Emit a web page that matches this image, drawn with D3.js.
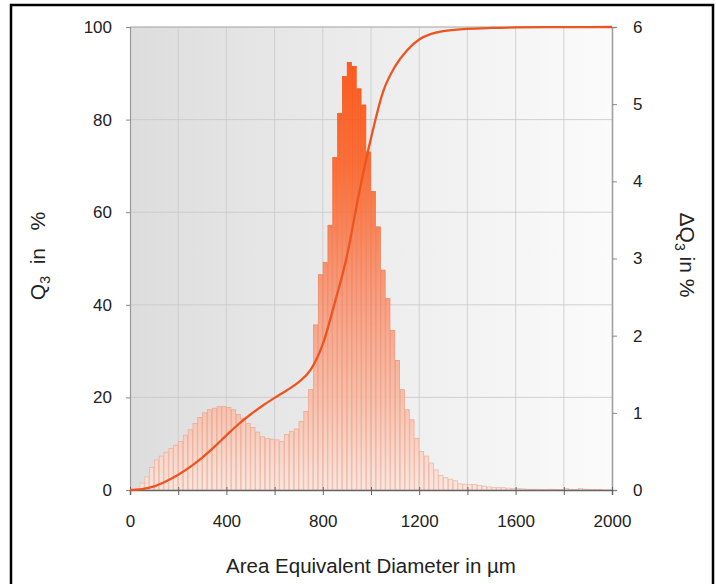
<!DOCTYPE html>
<html>
<head>
<meta charset="utf-8">
<script src="https://cdn.jsdelivr.net/npm/d3@7"></script>
<style>
  body { margin: 0; background: #fff; }
  text { font-family: "Liberation Sans", Arial, sans-serif; fill: #222; }
</style>
</head>
<body>
<div id="chart"></div>
<script>
// bin lower edges in µm (20 µm wide bins)
var binStarts = [0,20,40,60,80,100,120,140,160,180,200,220,240,260,280,300,320,340,360,380,
  400,420,440,460,480,500,520,540,560,580,600,620,640,660,680,700,720,740,760,780,
  800,820,840,860,880,900,920,940,960,980,1000,1020,1040,1060,1080,1100,1120,1140,1160,1180,
  1200,1220,1240,1260,1280,1300,1320,1340,1360,1380,1400,1420,1440,1460,1480,1500,1520,1540,1560,1580,
  1600,1620,1640,1660,1680,1700,1720,1740,1760,1780,1800,1820,1840,1860,1880,1900,1920,1940,1960,1980];
var binWidth = 20;

// delta Q3 per bin, in %
var dQ3 = [0.00,0.02,0.09,0.17,0.29,0.39,0.44,0.49,0.54,0.58,
  0.63,0.71,0.78,0.86,0.94,1.00,1.04,1.06,1.08,1.08,
  1.07,1.04,0.98,0.93,0.86,0.81,0.75,0.69,0.67,0.66,
  0.65,0.63,0.72,0.76,0.79,0.89,1.02,1.30,2.14,2.79,
  2.95,3.43,4.31,4.88,5.36,5.54,5.49,5.20,4.99,4.38,
  3.87,3.41,2.85,2.48,2.07,1.68,1.30,1.04,0.91,0.67,
  0.50,0.44,0.35,0.26,0.19,0.16,0.14,0.12,0.08,0.075,
  0.07,0.07,0.06,0.05,0.04,0.035,0.03,0.03,0.025,0.02,
  0.02,0.015,0.01,0.01,0.01,0.008,0.008,0.01,0.008,0.005,
  0.02,0.01,0.005,0.02,0.01,0.005,0.005,0.005,0.003,0.003];

// cumulative Q3 curve, in %
var q3Diam = [0,50,100,150,200,250,300,350,400,450,500,550,600,650,700,750,800,850,900,950,
  1000,1050,1100,1150,1200,1250,1300,1400,1500,1600,1800,2000];
var q3Vals = [0,0.2,0.8,1.9,3.3,5.0,7.0,9.3,11.8,14.2,16.3,18.2,19.9,21.5,23.3,26.0,31.5,40.5,50.5,64,
  76,86,91.5,95.0,97.3,98.5,99.1,99.6,99.8,99.9,99.97,100];

var xTicks = [0,200,400,600,800,1000,1200,1400,1600,1800,2000];
var xTickLabels = ["0","","400","","800","","1200","","1600","","2000"];
var leftTicks = [0,20,40,60,80,100];
var rightTicks = [0,1,2,3,4,5,6];

var W = 716, H = 584;
var plot = {left: 130, right: 612, top: 27, bottom: 490};

var svg = d3.select("#chart").append("svg")
    .attr("width", W)
    .attr("height", H);

var defs = svg.append("defs");

// background: grey on the left fading to near white on the right
var bg = defs.append("linearGradient").attr("id", "bgGrad")
    .attr("x1", "0").attr("x2", "1").attr("y1", "0").attr("y2", "0");
bg.append("stop").attr("offset", "0%").attr("stop-color", "#dddddd");
bg.append("stop").attr("offset", "55%").attr("stop-color", "#eeeeee");
bg.append("stop").attr("offset", "100%").attr("stop-color", "#fbfbfb");

// bar fill: saturated at top of plot, pale at the base
var barGrad = defs.append("linearGradient").attr("id", "barGrad")
    .attr("gradientUnits", "userSpaceOnUse")
    .attr("x1", 0).attr("x2", 0).attr("y1", plot.top).attr("y2", plot.bottom);
barGrad.append("stop").attr("offset", "0%").attr("stop-color", "#ff4500");
barGrad.append("stop").attr("offset", "30%").attr("stop-color", "#ff5f1e");
barGrad.append("stop").attr("offset", "58%").attr("stop-color", "#fa9472");
barGrad.append("stop").attr("offset", "82%").attr("stop-color", "#f8bea8");
barGrad.append("stop").attr("offset", "100%").attr("stop-color", "#fbe6de");

var barStroke = defs.append("linearGradient").attr("id", "barStroke")
    .attr("gradientUnits", "userSpaceOnUse")
    .attr("x1", 0).attr("x2", 0).attr("y1", plot.top).attr("y2", plot.bottom);
barStroke.append("stop").attr("offset", "0%").attr("stop-color", "#f04200");
barStroke.append("stop").attr("offset", "60%").attr("stop-color", "#ec8566");
barStroke.append("stop").attr("offset", "100%").attr("stop-color", "#efb6a4");

var x = d3.scaleLinear().domain([0, 2000]).range([plot.left, plot.right]);
var yL = d3.scaleLinear().domain([0, 100]).range([plot.bottom, plot.top]);
var yR = d3.scaleLinear().domain([0, 6]).range([plot.bottom, plot.top]);

// outer frame
svg.append("rect")
    .attr("x", 11).attr("y", 5)
    .attr("width", 702).attr("height", 620)
    .attr("fill", "none")
    .attr("stroke", "#000")
    .attr("stroke-width", 2.5);

// plot background
svg.append("rect")
    .attr("x", plot.left).attr("y", plot.top)
    .attr("width", plot.right - plot.left)
    .attr("height", plot.bottom - plot.top)
    .attr("fill", "url(#bgGrad)");

// grid
svg.append("g").selectAll("line.v")
    .data(xTicks.slice(1, -1))
    .enter().append("line")
    .attr("x1", function(d) { return x(d); })
    .attr("x2", function(d) { return x(d); })
    .attr("y1", plot.top).attr("y2", plot.bottom)
    .attr("stroke", "#cacaca")
    .attr("stroke-width", 0.8);

svg.append("g").selectAll("line.h")
    .data(leftTicks.slice(1, -1))
    .enter().append("line")
    .attr("x1", plot.left).attr("x2", plot.right)
    .attr("y1", function(d) { return yL(d); })
    .attr("y2", function(d) { return yL(d); })
    .attr("stroke", "#c6c6c6")
    .attr("stroke-width", 0.8);

// histogram bars
svg.append("g").selectAll("rect")
    .data(dQ3)
    .enter().append("rect")
    .attr("x", function(d, i) { return x(binStarts[i]) + 0.3; })
    .attr("width", function(d, i) { return x(binStarts[i] + binWidth) - x(binStarts[i]) - 0.6; })
    .attr("y", function(d) { return yR(d); })
    .attr("height", function(d) { return plot.bottom - yR(d); })
    .attr("fill", "url(#barGrad)")
    .attr("fill-opacity", 0.9)
    .attr("stroke", "url(#barStroke)")
    .attr("stroke-width", 0.7);

// top border line
svg.append("line")
    .attr("x1", plot.left).attr("x2", plot.right)
    .attr("y1", plot.top).attr("y2", plot.top)
    .attr("stroke", "#a0a0a0").attr("stroke-width", 1.2);

// left axis
var leftAxis = svg.append("g")
    .attr("transform", "translate(" + plot.left + ",0)")
    .call(d3.axisLeft(yL).tickValues(leftTicks).tickSize(4).tickPadding(14));
leftAxis.select(".domain").attr("stroke", "#999").attr("stroke-width", 1.2);
leftAxis.selectAll(".tick line").attr("stroke", "#888");
leftAxis.selectAll("text").style("font-size", "17px").attr("fill", "#222");

// right axis
var rightAxis = svg.append("g")
    .attr("transform", "translate(" + plot.right + ",0)")
    .call(d3.axisRight(yR).tickValues(rightTicks).tickFormat(d3.format("d"))
        .tickSize(5).tickPadding(16));
rightAxis.select(".domain").attr("stroke", "#a0a0a0").attr("stroke-width", 1.6);
rightAxis.selectAll(".tick line").attr("stroke", "#888");
rightAxis.selectAll("text").style("font-size", "17px").attr("fill", "#222");

// bottom axis
var bottomAxis = svg.append("g")
    .attr("transform", "translate(0," + plot.bottom + ")")
    .call(d3.axisBottom(x).tickValues(xTicks)
        .tickFormat(function(d, i) { return xTickLabels[i]; })
        .tickSize(5).tickPadding(20));
bottomAxis.select(".domain").attr("stroke", "#666").attr("stroke-width", 1.5);
bottomAxis.selectAll(".tick line").attr("stroke", "#666").attr("y1", -3);
bottomAxis.selectAll("text").style("font-size", "17px").attr("fill", "#222");

// cumulative curve
var q3Line = d3.line()
    .x(function(d, i) { return x(q3Diam[i]); })
    .y(function(d) { return yL(d); })
    .curve(d3.curveMonotoneX);

svg.append("path")
    .datum(q3Vals)
    .attr("d", q3Line)
    .attr("fill", "none")
    .attr("stroke", "#ee5420")
    .attr("stroke-width", 2.3);

// axis titles
var lt = svg.append("text")
    .attr("transform", "translate(45,256) rotate(-90)")
    .attr("text-anchor", "middle")
    .style("white-space", "pre")
    .style("font-size", "21px");
lt.append("tspan").text("Q");
lt.append("tspan").text("3").style("font-size", "14px").attr("dy", 5);
lt.append("tspan").text("  in   %").attr("dy", -5);

var rt = svg.append("text")
    .attr("transform", "translate(680,255) rotate(90)")
    .attr("text-anchor", "middle")
    .style("font-size", "21px");
rt.append("tspan").text("ΔQ");
rt.append("tspan").text("3").style("font-size", "14px").attr("dy", 5);
rt.append("tspan").text(" in %").attr("dy", -5);

svg.append("text")
    .attr("x", 371).attr("y", 573)
    .attr("text-anchor", "middle")
    .style("font-size", "20.5px")
    .text("Area Equivalent Diameter in µm");
</script>
</body>
</html>
